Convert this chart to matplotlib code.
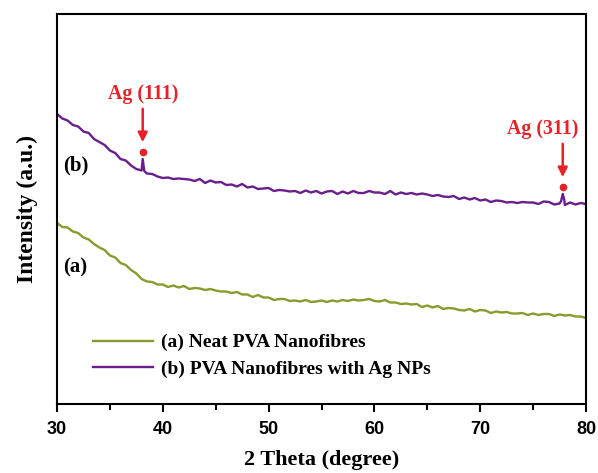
#XRD patterns of PVA nanofibres, with and without Ag NPs
import numpy as np
import matplotlib
matplotlib.use('Agg')
import matplotlib.pyplot as plt
from matplotlib.ticker import MultipleLocator

# 2 theta grid (degree), step 0.5
two_theta = np.arange(30, 80.25, 0.5)

# (b) PVA nanofibres with Ag NPs, intensity (a.u.)
pva_ag = [289, 286, 283, 280, 277, 273, 270, 266, 262, 258,
          254, 250, 246, 243, 238, 236, 233, 231, 229, 228,
          227, 226, 226, 225, 224, 225, 223, 224, 222, 223,
          222, 221, 220, 219, 218, 219, 217, 217, 216, 215,
          215, 214, 214, 213, 213, 212, 212, 213, 212, 212,
          211, 212, 212, 211, 212, 211, 212, 212, 211, 212,
          212, 211, 211, 212, 210, 211, 211, 210, 210, 210,
          209, 209, 208, 208, 207, 207, 206, 206, 205, 205,
          204, 204, 203, 203, 202, 202, 202, 202, 201, 202,
          201, 201, 202, 201, 200, 200, 200, 201, 200, 200,
          200]
# Ag reflections on top of curve (b)
peak_theta = [38.1, 38.25, 77.65, 77.8, 77.95]
peak_int = [245, 233, 203, 210, 204]
peak_names = ['Ag (111)', 'Ag (311)']
peak_pos = [38.1, 77.8]
peak_top = [245, 210]

# (a) neat PVA nanofibres
pva_neat = [181, 178, 176, 173, 170, 167, 164, 161, 157, 153,
            149, 146, 142, 138, 134, 130, 126, 123, 121, 120,
            119, 118, 118, 117, 117, 116, 116, 115, 115, 114,
            114, 113, 112, 112, 111, 110, 109, 108, 108, 107,
            106, 105, 105, 104, 104, 103, 103, 103, 103, 103,
            103, 103, 103, 103, 103, 104, 104, 104, 104, 104,
            104, 103, 103, 102, 101, 101, 100, 100, 99, 98,
            98, 97, 97, 96, 96, 95, 95, 94, 94, 93,
            93, 93, 92, 92, 92, 91, 91, 91, 90, 90,
            90, 90, 90, 89, 89, 89, 89, 88, 88, 87,
            87]

# fine noise seen on the raw scans, added to both (a.u.)
noise = [1.0, -0.5, 0.5, -1.0, 0.5, -0.5, 1.0, -1.0, 0.0, 1.0,
         -0.5, 1.0, -1.0, 0.5, 0.5, -1.0, 0.5, -0.5, 1.0, -0.5,
         -1.0, 0.5, -1.0, 0.5, 1.0, -0.5, 0.0, 1.0, -1.0, 0.5,
         -0.5, 1.0, -1.0, 0.5, -0.5, 1.0, -0.5, 0.5, -1.0, 0.5,
         1.0, -1.0, 0.0, 0.5, -0.5, 1.0, -1.0, 0.5, -0.5, 1.0,
         -0.5, 0.5, 1.0, -1.0, 0.5, -0.5, 1.0, -1.0, 0.0, 1.0,
         -0.5, 0.5, -1.0, 1.0, -0.5, 0.5, -1.0, 1.0, -0.5, 0.5,
         0.5, -1.0, 1.0, -0.5, 0.0, 1.0, -1.0, 0.5, -0.5, 1.0,
         -0.5, 0.5, -1.0, 0.5, 1.0, -0.5, 0.0, -1.0, 1.0, -0.5,
         0.5, -1.0, 0.5, 1.0, -0.5, 0.5, -1.0, 0.5, -0.5, 1.0,
         0.0]

GREEN = '#8a9a2c'
PURPLE = '#6a1e8c'
RED = '#e62228'
SERIF = 'Liberation Serif'
SANS = 'Liberation Sans'

x_b = np.concatenate([two_theta, peak_theta])
y_b = np.concatenate([np.array(pva_ag) + np.array(noise), peak_int])
order = np.argsort(x_b)
x_b, y_b = x_b[order], y_b[order]
y_a = np.array(pva_neat) - np.array(noise[::-1])

fig = plt.figure(figsize=(5.98, 4.73), dpi=100)
ax = fig.add_axes([57/598, 1-404/473, 529/598, 390/473])

ax.plot(two_theta, y_a, color=GREEN, lw=1.7, label='(a) Neat PVA Nanofibres')
ax.plot(x_b, y_b, color=PURPLE, lw=1.7, label='(b) PVA Nanofibres with Ag NPs')

ax.set_xlim(30, 80)
ax.set_ylim(0, 390)
ax.set_yticks([])
ax.xaxis.set_major_locator(MultipleLocator(10))
ax.xaxis.set_minor_locator(MultipleLocator(5))
ax.tick_params(axis='x', which='major', direction='out', length=6, width=1.5, pad=6)
ax.tick_params(axis='x', which='minor', direction='out', length=4, width=1.5)
for sp in ax.spines.values():
    sp.set_linewidth(1.5)
for lab in ax.get_xticklabels():
    lab.set_fontfamily(SANS)
    lab.set_fontweight('bold')
    lab.set_fontsize(13)

ax.set_xlabel('2 Theta (degree)', fontfamily=SERIF, fontweight='bold', fontsize=16, labelpad=9)
ax.set_ylabel('Intensity (a.u.)', fontfamily=SERIF, fontweight='bold', fontsize=17, labelpad=14)

# curve tags
ax.text(30.6, 239, '(b)', fontfamily=SERIF, fontweight='bold', fontsize=15, va='center', ha='left')
ax.text(30.6, 137, '(a)', fontfamily=SERIF, fontweight='bold', fontsize=15, va='center', ha='left')

# Ag peak markers: dot, arrow, label (label of 311 sits a bit left of its arrow)
label_dx = [0.0, -1.9]
for name, px, ptop, dx in zip(peak_names, peak_pos, peak_top, label_dx):
    ax.plot(px, ptop + 7, 'o', color=RED, ms=4.5)
    ax.annotate('', xy=(px, ptop + 14), xytext=(px, ptop + 53),
                arrowprops=dict(arrowstyle='-|>', color=RED, lw=1.8, mutation_scale=14))
    ax.text(px + dx, ptop + 55, name, color=RED, fontfamily=SERIF, fontweight='bold',
            fontsize=14.3, ha='center', va='bottom')

leg = ax.legend(loc='lower left', bbox_to_anchor=(0.035, 0.022), frameon=False,
                handlelength=3.1, handletextpad=0.4, labelspacing=0.45,
                prop={'family': SERIF, 'weight': 'bold', 'size': 14})

fig.savefig('out.png', dpi=100)
